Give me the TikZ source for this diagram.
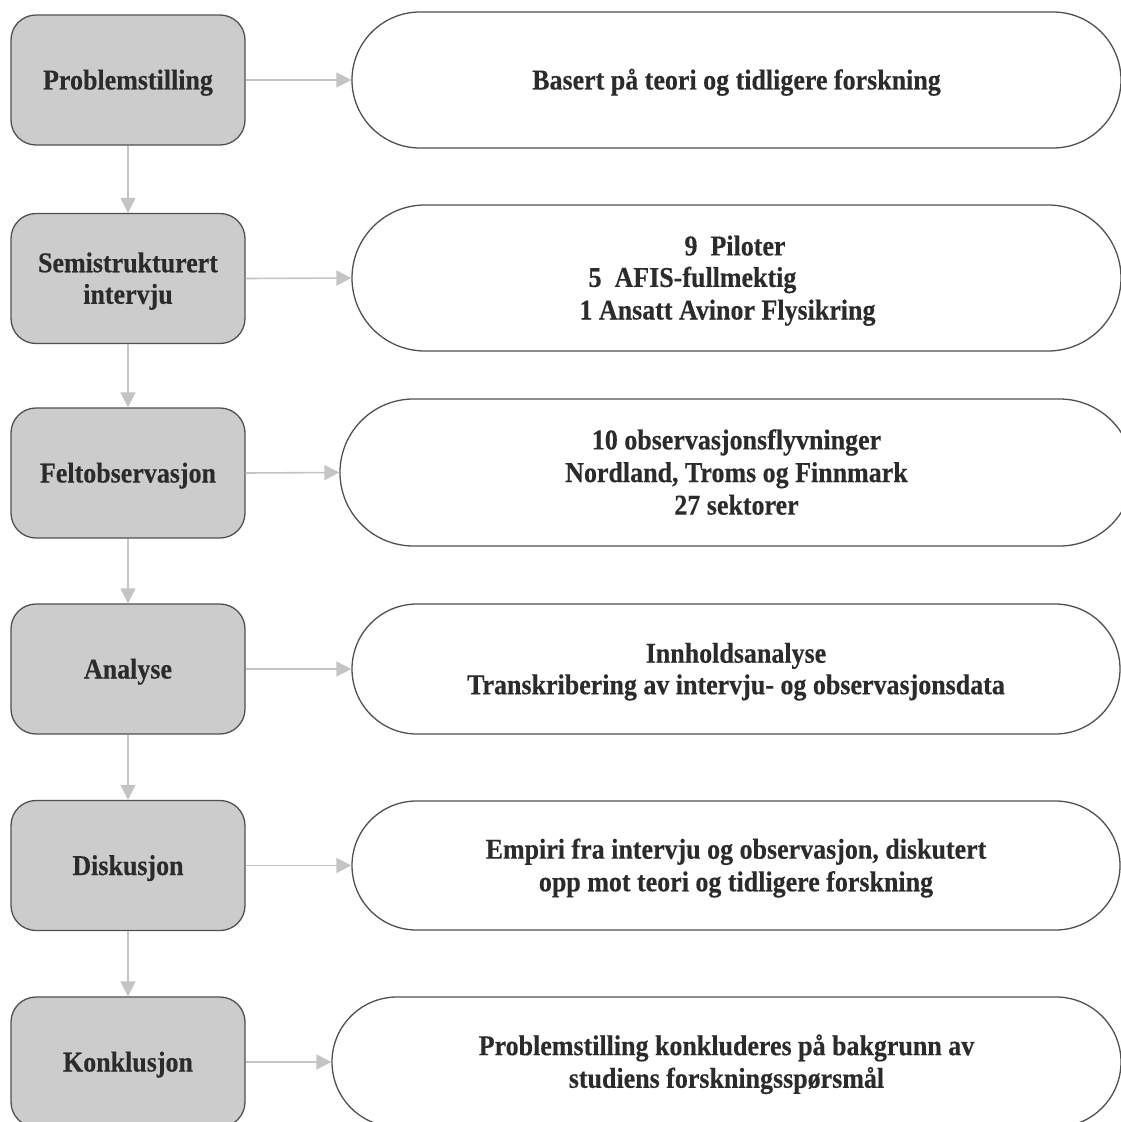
\documentclass[tikz,border=0pt]{standalone}
\usepackage{fontspec}
\setmainfont{Liberation Serif}[FakeStretch=0.905, BoldFeatures={FakeBold=0.3}]
\usetikzlibrary{arrows.meta}
\definecolor{boxgray}{HTML}{CCCCCC}
\definecolor{edgegray}{HTML}{505050}
\definecolor{arrowgray}{HTML}{C4C4C4}
\definecolor{textdark}{HTML}{2B2B2B}
% every text line gets the same box, so the capitals sit centred in it
\newcommand\rowstrut{\rule[-6.25pt]{0pt}{31.5pt}}

\begin{document}
\begin{tikzpicture}[x=1pt,y=-1pt,
  stagebox/.style={draw=edgegray, fill=boxgray, line width=1.3pt,
    rounded corners=25pt, minimum width=234pt, minimum height=130pt,
    inner sep=0pt, align=center, text=textdark,
    font=\fontsize{28.7}{31.5}\selectfont\bfseries},
  detailbox/.style={draw=edgegray, fill=white, line width=1.3pt,
    inner sep=0pt, align=center, text=textdark,
    font=\fontsize{28.7}{31.5}\selectfont\bfseries},
  flow/.style={draw=arrowgray, line width=1.6pt,
    -{Triangle[length=15pt,width=15pt]}}
]
\useasboundingbox (0,0) rectangle (1121,1122);
\clip (0,0) rectangle (1121,1122);

% method stages (left column)
\node[stagebox] (s1) at (128,80)    {\rowstrut Problemstilling};
\node[stagebox] (s2) at (128,278.5) {\rowstrut Semistrukturert\\\rowstrut intervju};
\node[stagebox] (s3) at (128,473)   {\rowstrut Feltobservasjon};
\node[stagebox] (s4) at (128,669)   {\rowstrut Analyse};
\node[stagebox] (s5) at (128,865.5) {\rowstrut Diskusjon};
\node[stagebox] (s6) at (128,1062)  {\rowstrut Konklusjon};

% details for each stage (right column)
\node[detailbox, minimum width=769pt, minimum height=136pt, rounded corners=68pt]
  (r1) at (736.5,80) {\rowstrut Basert på teori og tidligere forskning};
\node[detailbox, minimum width=769pt, minimum height=146pt, rounded corners=73pt]
  (r2) at (736.5,278)
  {\rowstrut 9\ \ Piloter\hspace*{3pt}\null\\
   \rowstrut 5\ \ AFIS-fullmektig\hspace*{88pt}\null\\
   \rowstrut 1 Ansatt Avinor Flysikring\hspace*{18pt}\null};
\node[detailbox, minimum width=793pt, minimum height=147pt, rounded corners=73.5pt]
  (r3) at (736.5,472.5)
  {\rowstrut 10 observasjonsflyvninger\\
   \rowstrut Nordland, Troms og Finnmark\\
   \rowstrut 27 sektorer};
\node[detailbox, minimum width=768pt, minimum height=130pt, rounded corners=65pt]
  (r4) at (736,669)
  {\rowstrut Innholdsanalyse\\
   \rowstrut Transkribering av intervju- og observasjonsdata};
\node[detailbox, minimum width=768pt, minimum height=129pt, rounded corners=64.5pt]
  (r5) at (736,865.5)
  {\rowstrut Empiri fra intervju og observasjon, diskutert\\
   \rowstrut opp mot teori og tidligere forskning};
\node[detailbox, minimum width=789pt, minimum height=130pt, rounded corners=65pt]
  (r6) at (726.5,1062)
  {\rowstrut Problemstilling konkluderes på bakgrunn av\\
   \rowstrut studiens forskningsspørsmål};

% connectors
\foreach \i/\j in {1/2,2/3,3/4,4/5,5/6}
  \draw[flow] (s\i.south) -- (s\j.north);
\foreach \i in {1,...,6}
  \draw[flow] (s\i.east) -- (r\i.west);
\end{tikzpicture}
\end{document}
